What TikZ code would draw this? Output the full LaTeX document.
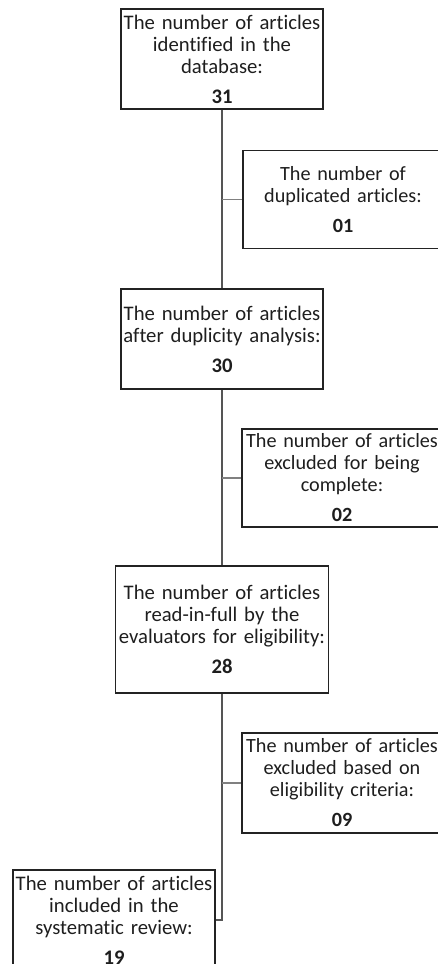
\documentclass[tikz,border=0pt]{standalone}
\usepackage{fontspec}
\setmainfont{Carlito}[Ligatures=NoCommon]
\usetikzlibrary{positioning}
\definecolor{boxline}{RGB}{35,35,35}
\definecolor{linkcol}{RGB}{85,85,85}
\definecolor{txtcol}{RGB}{30,30,30}
\tikzset{
  countbox/.style={draw=boxline,line width=1.5pt,text=txtcol,align=center,inner sep=1pt,font=\fontsize{20.7}{22}\selectfont},
  mainbox/.style={countbox,text width=200pt,minimum height=100pt},
  sidebox/.style={countbox,text width=198pt,minimum height=98pt,font=\fontsize{20.2}{22}\selectfont},
  mainlink/.style={linkcol,line width=1.2pt},
  sidelink/.style={linkcol!75,line width=1.2pt},
}

\begin{document}
\begin{tikzpicture}[x=1pt,y=-1pt]
  \useasboundingbox (0,0) rectangle (438,964);
  \node[mainbox] (id)   at (222,59)    {The number of articles\\identified in the\\database:\\[8pt]\textbf{31}};
  \node[sidebox] (dup)  at (343,199.5) {The number of\\duplicated articles:\\[8pt]\textbf{01}};
  \node[mainbox] (ana)  at (222,339)   {The number of articles\\after duplicity analysis:\\[8pt]\textbf{30}};
  \node[sidebox] (cmp)  at (342,478)   {The number of articles\\excluded for being\\complete:\\[8pt]\textbf{02}};
  \node[mainbox,text width=211pt,minimum height=127pt] (full) at (222,629.5)
    {The number of articles\\read-in-full by the\\evaluators for eligibility:\\[8pt]\textbf{28}};
  \node[sidebox,minimum height=100pt] (elg) at (342,783) {The number of articles\\excluded based on\\eligibility criteria:\\[8pt]\textbf{09}};
  \node[mainbox] (inc)  at (114,920)   {The number of articles\\included in the\\systematic review:\\[8pt]\textbf{19}};
  % trunk
  \draw[mainlink] (id) -- (ana);
  \draw[mainlink] (ana) -- (full);
  \draw[mainlink] (full) |- (inc);
  % side branches
  \coordinate (j1) at (id.south |- dup.west);
  \coordinate (j2) at (ana.south |- cmp.west);
  \coordinate (j3) at (full.south |- elg.west);
  \draw[sidelink] (j1) -- (dup);
  \draw[sidelink] (j2) -- (cmp);
  \draw[sidelink] (j3) -- (elg);
\end{tikzpicture}
\end{document}
